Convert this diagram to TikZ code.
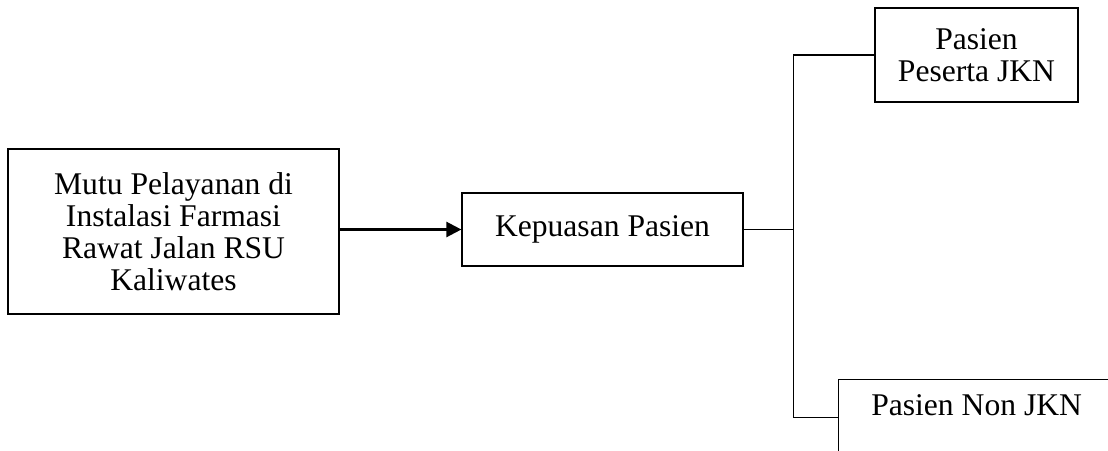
\documentclass[tikz,border=0pt]{standalone}
\usepackage{fontspec}
\setmainfont{Liberation Serif}
\usetikzlibrary{arrows.meta}

\tikzset{
  kotak/.style={draw, line width=0.6pt, align=center, inner sep=0pt,
    font=\fontsize{15.8}{15.9}\selectfont},
  garis/.style={line width=0.55pt},
}

\begin{document}
\begin{tikzpicture}[x=0.5pt, y=-0.5pt]
  \useasboundingbox (0,0) rectangle (1108,450);
  \clip (0,0) rectangle (1108,450);

  \node[kotak, minimum width=165.5pt, minimum height=82.5pt] (mutu) at (173.5,231.5)
    {Mutu Pelayanan di\\Instalasi Farmasi\\Rawat Jalan RSU\\Kaliwates};
  \node[kotak, minimum width=140.5pt, minimum height=36.5pt] (puas) at (602.5,229.5)
    {Kepuasan Pasien};
  \node[kotak, minimum width=101.5pt, minimum height=47pt] (jkn) at (976.5,55)
    {Pasien\\Peserta JKN};
  % kotak bawah terpotong oleh tepi gambar
  \node[kotak, anchor=north west, minimum width=138pt, minimum height=38pt,
    label={[anchor=north, inner sep=7.5pt, font=\fontsize{15.8}{15.9}\selectfont]north:Pasien Non JKN}]
    (nonjkn) at (838,379) {};

  \draw[line width=1.2pt, -{Triangle[length=7.5pt, width=7.5pt]}] (mutu.east |- puas.west) -- (puas.west); %% mutu -> puas
  \draw[garis] (puas.east) -- ++(50,0) coordinate (cabang);
  \draw[garis] (jkn.west) -| (cabang) |- (nonjkn.west);
\end{tikzpicture}
\end{document}
